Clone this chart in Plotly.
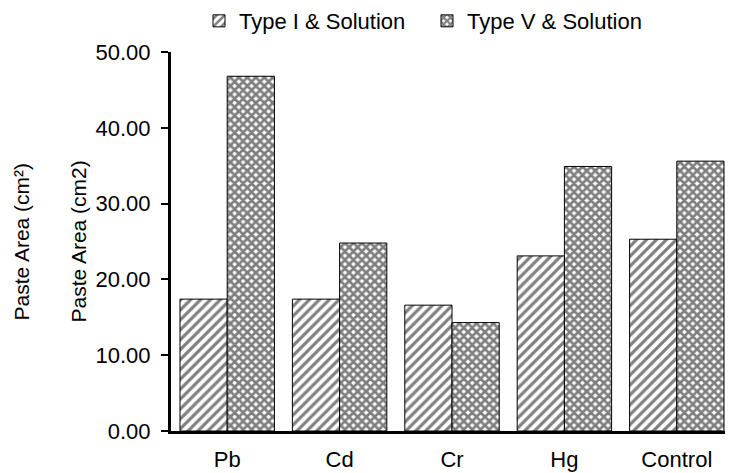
import plotly.graph_objects as go

categories = ["Pb", "Cd", "Cr", "Hg", "Control"]
type1_values = [17.4, 17.4, 16.6, 23.1, 25.3]
type5_values = [46.8, 24.8, 14.3, 34.9, 35.6]
series_names = ["Type I & Solution", "Type V & Solution"]
y_ticks = [0, 10, 20, 30, 40, 50]

FONT = "Arial, Liberation Sans, sans-serif"

# page body has an 8px default margin; figure is sized to fill the rest of the window
PAGE_OFF = 8
PLOT_L, PLOT_R, PLOT_T, PLOT_B = 171, 733, 52, 431.5
W, H = 733 - PAGE_OFF, 473 - PAGE_OFF
PW = PLOT_R - PLOT_L
PH = PLOT_B - PLOT_T

fig = go.Figure()
fig.add_trace(go.Bar(
    x=categories, y=type1_values, name=series_names[0],
    marker=dict(color="white", line=dict(color="black", width=1),
                pattern=dict(shape="/", fgcolor="black", bgcolor="white", size=7, solidity=0.45)),
))
fig.add_trace(go.Bar(
    x=categories, y=type5_values, name=series_names[1],
    marker=dict(color="white", line=dict(color="black", width=1),
                pattern=dict(shape="x", fgcolor="black", bgcolor="white", size=6, solidity=0.7)),
))

fig.update_layout(
    width=W, height=H,
    margin=dict(l=PLOT_L - PAGE_OFF, r=0, t=PLOT_T - PAGE_OFF, b=H - (PLOT_B - PAGE_OFF), pad=0, autoexpand=False),
    paper_bgcolor="white", plot_bgcolor="white",
    barmode="group", bargap=0.16, bargroupgap=0,
    font=dict(family=FONT, size=22, color="black"),
    showlegend=True,
    legend=dict(orientation="h", x=(199 - PLOT_L) / PW, xanchor="left",
                y=1 + (PLOT_T - 21) / PH, yanchor="middle", entrywidth=183,
                font=dict(size=22), bgcolor="rgba(0,0,0,0)"),
    xaxis=dict(range=[-0.5, 4.5], showline=True, linewidth=3, linecolor="black",
               showgrid=False, ticks="", ticklabelstandoff=7, zeroline=False,
               tickfont=dict(size=22)),
    yaxis=dict(range=[0, 50], tickvals=y_ticks, tickformat=".2f", showline=True,
               linewidth=3, linecolor="black", ticks="outside", ticklen=7, tickwidth=2,
               tickcolor="black", showgrid=False, zeroline=False, ticklabelstandoff=6,
               tickfont=dict(size=22)),
    annotations=[
        dict(text="Paste Area (cm²)", textangle=-90, xref="paper", yref="paper",
             x=(21 - PLOT_L) / PW, y=0.5, xanchor="center", yanchor="middle",
             showarrow=False, font=dict(size=21)),
        dict(text="Paste Area (cm2)", textangle=-90, xref="paper", yref="paper",
             x=(78 - PLOT_L) / PW, y=0.5, xanchor="center", yanchor="middle",
             showarrow=False, font=dict(size=21)),
    ],
)

fig.write_html("out.html")
